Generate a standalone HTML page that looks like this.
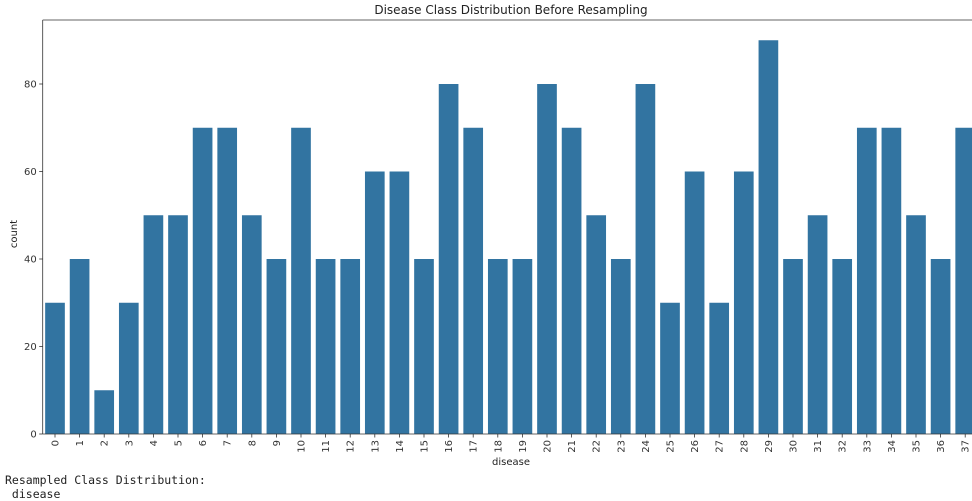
<!DOCTYPE html>
<html><head><meta charset="utf-8"><style>
body{margin:0;background:#fff;width:972px;height:500px;overflow:hidden;position:relative}
svg{position:absolute;left:0;top:0}
.mono{position:absolute;left:5px;font-family:"DejaVu Sans Mono","Liberation Mono",monospace;font-size:11.5px;color:#222;white-space:pre}
</style></head><body>
<svg width="972" height="470" id="chart" font-family="DejaVu Sans, Liberation Sans, sans-serif"></svg>
<div class="mono" style="top:473px">Resampled Class Distribution:</div>
<div class="mono" style="top:487px"> disease</div>
<script>
const categories=["0","1","2","3","4","5","6","7","8","9","10","11","12","13","14","15","16","17","18","19","20","21","22","23","24","25","26","27","28","29","30","31","32","33","34","35","36","37"];
const counts=[30,40,10,30,50,50,70,70,50,40,70,40,40,60,60,40,80,70,40,40,80,70,50,40,80,30,60,30,60,90,40,50,40,70,70,50,40,70];
const yTicks=[0,20,40,60,80];
const svg=document.getElementById('chart');
const NS='http://www.w3.org/2000/svg';
const x0=42.7,y0=434,pitch=24.6,ky=4.375,yTop=20;
const xs=i=>x0+(i+0.5)*pitch;
const ys=v=>y0-v*ky;
function mk(t,a){const e=document.createElementNS(NS,t);for(const k in a)e.setAttribute(k,a[k]);svg.appendChild(e);return e;}
counts.forEach((v,i)=>{
 const r=mk('rect',{x:xs(i)-pitch*0.4,y:ys(v),width:pitch*0.8,height:y0-ys(v),fill:'#3274a1'});
 
 
 mk('line',{x1:xs(i),x2:xs(i),y1:y0,y2:y0+3.5,stroke:'#333','stroke-width':0.8});
 const t=mk('text',{x:0,y:0,'font-size':10,fill:'#333','text-anchor':'end',transform:`translate(${xs(i)+3.5},${y0+6}) rotate(-90)`});
 t.textContent=categories[i];
 
 
});
yTicks.forEach(v=>{
 mk('line',{x1:x0-3.5,x2:x0,y1:ys(v),y2:ys(v),stroke:'#333','stroke-width':0.8});
 const t=mk('text',{x:x0-6,y:ys(v)+3.5,'font-size':10,fill:'#333','text-anchor':'end'});
 t.textContent=v;
 
 
});
mk('line',{x1:x0,x2:x0,y1:yTop,y2:y0,stroke:'#333','stroke-width':0.8});
mk('line',{x1:x0,x2:972,y1:y0,y2:y0,stroke:'#333','stroke-width':0.8});
mk('line',{x1:x0,x2:972,y1:yTop,y2:yTop,stroke:'#333','stroke-width':0.8});
let t=mk('text',{x:511,y:14,'font-size':12,fill:'#222','text-anchor':'middle'});t.textContent='Disease Class Distribution Before Resampling';

t=mk('text',{x:511,y:465,'font-size':10,fill:'#222','text-anchor':'middle'});t.textContent='disease';

t=mk('text',{x:0,y:0,'font-size':10,fill:'#222','text-anchor':'middle',transform:'translate(17,234) rotate(-90)'});t.textContent='count';

</script>
</body></html>
